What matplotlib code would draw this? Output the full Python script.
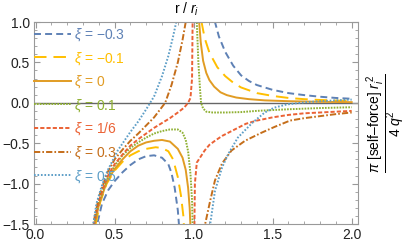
import matplotlib
matplotlib.use("Agg")
import matplotlib.pyplot as plt
from matplotlib.ticker import MultipleLocator

plt.rcParams['font.family'] = ['Liberation Sans', 'DejaVu Sans']
plt.rcParams['mathtext.fontset'] = 'custom'
plt.rcParams['mathtext.rm'] = 'Liberation Sans'
plt.rcParams['mathtext.it'] = 'Liberation Sans:italic'
plt.rcParams['lines.scale_dashes'] = False

# values, r / r_i  ->  scaled self-force
labels = ["−0.3", "−0.1", "0", "0.1", "1/6", "0.3", "0.5"]

# xi = -0.3
r_m03_in = [0.37, 0.39, 0.42, 0.46, 0.5, 0.55, 0.6, 0.65, 0.7, 0.75, 0.8, 0.84, 0.86, 0.88, 0.9, 0.915]
f_m03_in = [-1.75, -1.5, -1.25, -1.08, -0.97, -0.86, -0.77, -0.7, -0.66, -0.65, -0.68, -0.76, -0.87, -1.05, -1.33, -1.7]
r_m03_out = [1.11, 1.135, 1.16, 1.2, 1.25, 1.3, 1.35, 1.4, 1.5, 1.6, 1.7, 1.8, 1.9, 2.0]
f_m03_out = [1.3, 1.0, 0.82, 0.63, 0.46, 0.34, 0.27, 0.22, 0.16, 0.12, 0.095, 0.075, 0.06, 0.05]

# xi = -0.1
r_m01_in = [0.36, 0.38, 0.41, 0.45, 0.5, 0.55, 0.6, 0.65, 0.7, 0.76, 0.8, 0.84, 0.87, 0.9, 0.92, 0.935, 0.95]
f_m01_in = [-1.8, -1.5, -1.22, -1.0, -0.84, -0.73, -0.65, -0.6, -0.57, -0.55, -0.56, -0.6, -0.7, -0.92, -1.15, -1.4, -1.9]
r_m01_out = [1.04, 1.05, 1.07, 1.1, 1.15, 1.2, 1.25, 1.3, 1.4, 1.5, 1.6, 1.7, 1.8, 1.9, 2.0]
f_m01_out = [1.25, 1.0, 0.8, 0.62, 0.44, 0.33, 0.25, 0.19, 0.12, 0.085, 0.06, 0.045, 0.035, 0.028, 0.022]

# xi = 0
r_0_in = [0.355, 0.375, 0.4, 0.45, 0.5, 0.55, 0.6, 0.65, 0.7, 0.75, 0.8, 0.85, 0.9, 0.93, 0.95, 0.965, 0.975, 0.985]
f_0_in = [-1.8, -1.5, -1.27, -0.98, -0.82, -0.7, -0.6, -0.53, -0.49, -0.47, -0.46, -0.48, -0.57, -0.68, -0.83, -1.05, -1.3, -1.8]
r_0_out = [1.03, 1.035, 1.045, 1.06, 1.08, 1.1, 1.13, 1.17, 1.21, 1.27, 1.35, 1.45, 1.6, 1.8, 2.0]
f_0_out = [1.3, 1.0, 0.75, 0.52, 0.37, 0.28, 0.2, 0.13, 0.095, 0.065, 0.045, 0.03, 0.02, 0.012, 0.008]

# xi = 0.1
r_01_in = [0.35, 0.37, 0.4, 0.45, 0.5, 0.55, 0.6, 0.65, 0.7, 0.75, 0.8, 0.85, 0.9, 0.93, 0.95, 0.965, 0.98, 0.99, 0.997]
f_01_in = [-1.8, -1.5, -1.24, -0.95, -0.78, -0.65, -0.56, -0.49, -0.43, -0.38, -0.35, -0.33, -0.33, -0.37, -0.46, -0.6, -0.88, -1.21, -1.8]
r_01_out = [1.012, 1.02, 1.03, 1.04, 1.047, 1.06, 1.08, 1.12, 1.2, 1.3, 1.4, 1.5, 1.6, 1.8, 2.0]
f_01_out = [1.5, 1.0, 0.5, 0.18, 0.0, -0.07, -0.11, -0.12, -0.12, -0.115, -0.1, -0.09, -0.08, -0.065, -0.055]

# xi = 1/6
r_16_in = [0.35, 0.37, 0.4, 0.45, 0.5, 0.55, 0.6, 0.65, 0.7, 0.75, 0.8, 0.85, 0.9, 0.94, 0.965, 0.98, 0.99, 0.996]
f_16_in = [-1.8, -1.5, -1.22, -0.93, -0.76, -0.64, -0.53, -0.45, -0.38, -0.31, -0.25, -0.19, -0.12, -0.06, 0.0, 0.06, 0.3, 1.5]
r_16_out = [1.002, 1.008, 1.02, 1.04, 1.07, 1.1, 1.135, 1.18, 1.22, 1.28, 1.33, 1.4, 1.5, 1.6, 1.7, 1.8, 1.9, 2.0]
f_16_out = [-2.0, -1.0, -0.74, -0.68, -0.59, -0.52, -0.47, -0.41, -0.37, -0.31, -0.26, -0.22, -0.18, -0.15, -0.13, -0.12, -0.11, -0.1]

# xi = 0.3
r_03_in = [0.35, 0.37, 0.4, 0.45, 0.5, 0.55, 0.6, 0.65, 0.7, 0.75, 0.82, 0.86, 0.9, 0.93, 0.95, 0.97]
f_03_in = [-1.8, -1.45, -1.17, -0.88, -0.7, -0.58, -0.47, -0.38, -0.28, -0.18, 0.0, 0.22, 0.5, 0.78, 1.0, 1.5]
r_03_out = [1.065, 1.073, 1.105, 1.135, 1.18, 1.24, 1.325, 1.43, 1.51, 1.61, 1.7, 1.82, 1.9, 2.0]
f_03_out = [-1.9, -1.5, -1.21, -0.96, -0.75, -0.59, -0.47, -0.37, -0.3, -0.22, -0.19, -0.16, -0.14, -0.12]

# xi = 0.5
r_05_in = [0.345, 0.366, 0.385, 0.415, 0.455, 0.52, 0.6, 0.65, 0.7, 0.75, 0.8, 0.84, 0.87, 0.89, 0.92]
f_05_in = [-1.8, -1.49, -1.25, -1.05, -0.84, -0.59, -0.36, -0.23, -0.08, 0.08, 0.33, 0.58, 0.82, 1.0, 1.5]
r_05_out = [1.095, 1.105, 1.135, 1.18, 1.22, 1.28, 1.37, 1.45, 1.51, 1.59, 1.72, 1.85, 2.0]
f_05_out = [-1.8, -1.5, -1.09, -0.8, -0.63, -0.43, -0.25, -0.12, -0.06, -0.02, 0.01, 0.025, 0.04]

colors = ["#5E81B5", "#FFBF00", "#E19C24", "#8FB032", "#EB6235", "#C56E1A", "#5D9EC7"]
dashes = [(5, 3), (9, 5), None, (1.2, 0.9), (3, 1.5), (4.5, 1.5, 1.2, 1.5), (1.2, 1.3)]

branches = [
    (r_m03_in, f_m03_in, r_m03_out, f_m03_out),
    (r_m01_in, f_m01_in, r_m01_out, f_m01_out),
    (r_0_in, f_0_in, r_0_out, f_0_out),
    (r_01_in, f_01_in, r_01_out, f_01_out),
    (r_16_in, f_16_in, r_16_out, f_16_out),
    (r_03_in, f_03_in, r_03_out, f_03_out),
    (r_05_in, f_05_in, r_05_out, f_05_out),
]

fig = plt.figure(figsize=(4.09, 2.43), dpi=100)
ax = fig.add_axes([34 / 409, 1 - 224 / 243, 324 / 409, 202 / 243])

ax.axhline(0, color="#666666", lw=1.0, zorder=1)

for i, (ri, fi, ro, fo) in enumerate(branches):
    kw = dict(color=colors[i], lw=1.4)
    if dashes[i] is not None:
        kw["dashes"] = dashes[i]
    ax.plot(ri, fi, label=r"$\xi$ = " + labels[i], **kw)
    ax.plot(ro, fo, **kw)

ax.set_xlim(-0.01, 2.04)
ax.set_ylim(-1.5, 1.0)

ax.xaxis.set_major_locator(MultipleLocator(0.5))
ax.xaxis.set_minor_locator(MultipleLocator(0.1))
ax.yaxis.set_major_locator(MultipleLocator(0.5))
ax.yaxis.set_minor_locator(MultipleLocator(0.1))
ax.xaxis.set_major_formatter(lambda v, p: f"{v:.1f}".replace("-", "−"))
ax.yaxis.set_major_formatter(lambda v, p: f"{v:.1f}".replace("-", "−"))
ax.tick_params(which="both", direction="in", top=True, right=True, color="#999999",
               labelsize=10, labelcolor="#222222", pad=3)
ax.tick_params(which="major", length=4, width=0.8)
ax.tick_params(which="minor", length=2, width=0.6)
for s in ax.spines.values():
    s.set_color("#999999")
    s.set_linewidth(0.8)

leg = ax.legend(loc="upper left", frameon=False, fontsize=10, handlelength=2.65,
                handletextpad=0.2, labelspacing=0.48, borderaxespad=0.0,
                borderpad=0.3, labelcolor="linecolor")
leg.set_bbox_to_anchor((-0.012, 1.0), transform=ax.transAxes)

fig.text(187 / 409, 1 - 9 / 243, r"r / $r_i$", ha="center", va="center", fontsize=10)
fig.text(386 / 409, 1 - 123 / 243,
         r"$\dfrac{\pi\ [\mathrm{self}\text{–}\mathrm{force}]\ r_i^{\,2}}{4\ q^2}$",
         rotation=90, ha="center", va="center", fontsize=10)

fig.savefig("out.png", dpi=100)
